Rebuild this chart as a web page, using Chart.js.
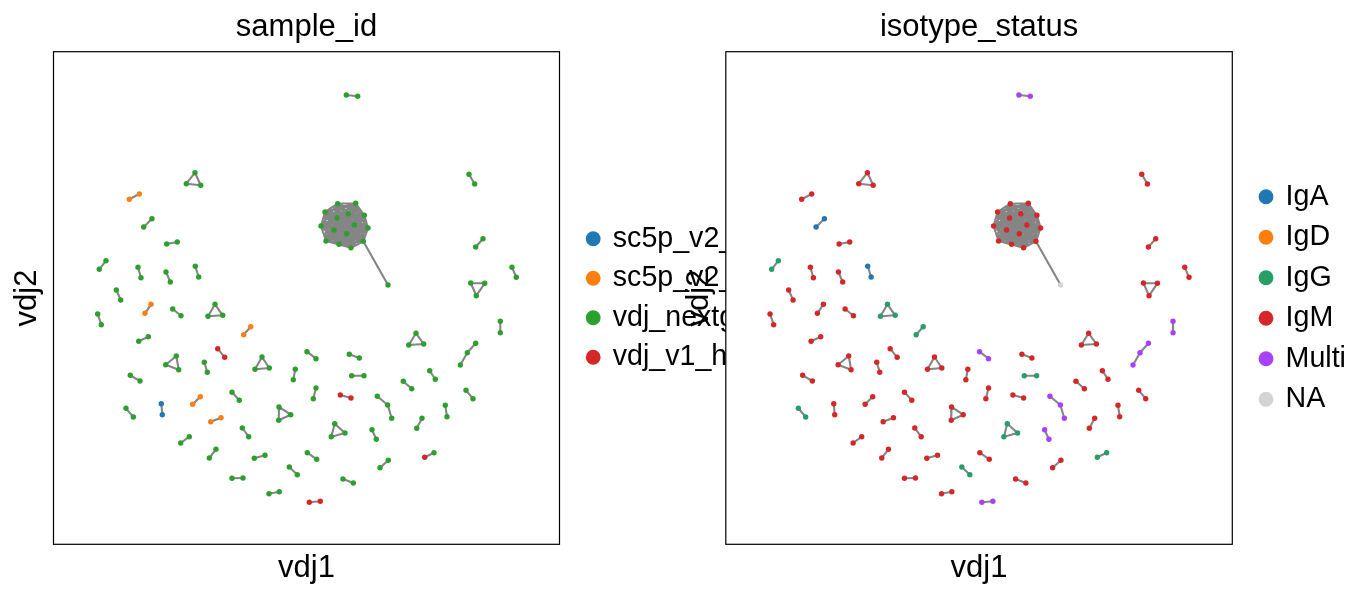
<!DOCTYPE html>
<html><head><meta charset="utf-8">
<script src="https://cdn.jsdelivr.net/npm/chart.js@4/dist/chart.umd.min.js"></script>
<style>
html,body{margin:0;padding:0;background:#fff;overflow:hidden}
#wrap{position:relative;width:1372px;height:599px}
canvas{position:absolute;left:0;top:0}
</style></head>
<body><div id="wrap"><canvas id="c1" width="1372" height="599"></canvas><canvas id="c2" width="1372" height="599"></canvas></div>
<script>
// ---------- categories ----------
const sampleCats = ['sc5p_v2_hs_PBMC_10k_b','sc5p_v2_hs_PBMC_1k_b','vdj_nextgem_hs_pbmc3_b','vdj_v1_hs_pbmc3_b'];
const sampleColors = ['#1f77b4','#ff7f0e','#2ca02c','#d62728'];
const isotypeCats = ['IgA','IgD','IgG','IgM','Multi','NA'];
const isotypeColors = ['#1f77b4','#ff7f0e','#279e68','#d62728','#aa40fc','#d3d3d3'];

// ---------- node embedding (vdj1, vdj2) ----------
const vdj1 = [
 141.5,132.8,147.2,75.8,85.8,90.2,98.5,113.2,123.8,45.8,
 52.5,84.5,87.5,112.5,116.8,141.8,145.2,62.8,67.2,91.5,
 97.5,119.2,127.5,161.5,154.5,169.2,44.2,47.8,292.8,304.2,
 415.5,421.2,284.2,302.2,271.5,310.8,283.5,294.8,267.5,314.5,
 300.8,280.5,293.2,272.5,285.5,297.5,309.8,334.5,429.5,422.2,
 458.5,462.8,417.2,431.2,422.8,446.8,446.8,197.2,190.2,85.2,
 94.8,164.2,171.2,122.8,112.2,125.2,150.8,153.8,208.5,201.5,
 215.8,253.5,262.5,241.8,239.8,76.8,86.5,178.5,185.8,107.8,
 108.8,146.8,139.2,72.5,79.8,262.5,259.8,225.5,237.2,225.2,
 167.5,157.2,188.8,195.2,135.8,127.2,162.5,155.8,211.5,200.8,
 253.8,263.2,235.8,243.8,178.5,189.5,215.5,225.8,255.8,266.8,
 362.5,355.2,370.2,422.2,413.8,406.8,295.8,305.8,298.2,310.5,
 376.2,381.8,349.8,358.2,286.8,297.5,323.8,334.2,338.2,412.5,
 419.5,391.8,393.5,368.5,363.2,281.2,277.8,291.5,318.5,322.8,
 371.2,380.5,334.8,326.5,289.5,299.8
];
const vdj2 = [
 371.6,360.6,359.0,345.0,350.3,317.3,325.6,300.3,302.3,275.0,
 283.6,277.0,266.6,272.3,262.3,278.0,267.3,254.3,244.3,231.0,
 240.0,235.3,228.6,240.0,228.0,229.0,230.3,219.6,449.3,448.0,
 370.0,360.3,340.6,341.0,332.3,329.0,326.3,330.6,318.3,316.3,
 319.3,314.3,310.6,303.3,300.0,296.6,303.0,259.3,305.6,297.3,
 277.0,267.0,261.3,261.0,248.6,223.0,211.6,217.6,209.6,203.0,
 207.6,195.6,187.0,188.3,179.6,174.6,182.0,172.0,187.3,175.0,
 176.3,192.6,185.6,175.0,164.6,169.0,163.3,152.0,144.0,140.6,
 129.6,147.6,140.0,136.0,127.3,156.3,145.6,137.3,129.6,124.0,
 126.6,122.6,116.3,107.6,107.6,101.3,95.0,86.3,89.0,86.0,
 91.6,85.0,77.3,69.6,66.0,66.3,50.6,52.6,42.0,43.0,
 211.0,199.3,200.3,201.0,191.6,179.3,190.0,186.3,168.6,168.6,
 173.6,165.0,163.0,155.6,149.3,146.3,148.0,139.3,126.0,154.0,
 145.6,139.0,127.6,126.0,116.0,120.6,107.6,111.3,114.6,105.0,
 87.0,91.6,84.0,76.6,65.3,61.3
];
// category index of each node
const sampleOf = [
 2,2,2,1,1,2,2,2,2,2, 2,2,2,2,2,2,2,2,2,1, 1,2,2,2,2,2,2,2,2,2,
 2,2,2,2,2,2,2,2,2,2, 2,2,2,2,2,2,2,2,2,2, 2,2,2,2,2,2,2,1,1,2,
 2,3,3,2,2,2,2,2,2,2, 2,2,2,2,2,2,2,2,2,0, 0,1,1,2,2,2,2,2,2,2,
 1,1,2,2,2,2,2,2,2,2, 2,2,2,2,2,2,2,2,3,3, 2,2,2,2,2,2,2,2,2,2,
 2,2,2,2,3,3,2,2,2,2, 2,2,2,2,2,2,2,2,2,2, 3,2,2,2,2,2
];
const isotypeOf = [
 3,3,3,3,3,0,0,3,3,2, 2,3,3,3,3,0,0,3,3,3, 3,3,3,2,2,2,3,3,4,4,
 3,3,3,3,3,3,3,3,3,3, 3,3,3,3,3,3,3,5,3,3, 3,3,3,3,3,4,4,2,2,3,
 3,3,3,3,3,3,3,3,3,3, 3,4,4,3,3,3,3,3,3,3, 3,3,3,2,2,3,3,3,3,3,
 3,3,3,3,3,3,3,3,3,3, 3,3,2,2,3,3,3,3,4,4, 3,3,3,4,4,4,3,3,2,2,
 3,3,3,3,3,3,4,4,4,3, 3,3,3,3,3,2,2,2,4,4, 2,2,3,3,3,3
];
// fully connected clonotype groups (node indices)
const cliques = [
 [0,1,2],[3,4],[5,6],[7,8],[9,10],[11,12],[13,14],[15,16],[17,18],[19,20],
 [21,22],[23,24,25],[26,27],[28,29],[30,31],
 [32,33,34,35,36,37,38,39,40,41,42,43,44,45,46],
 [48,49],[50,51],[52,53,54],[55,56],[57,58],[59,60],[61,62],[63,64,65],[66,67],
 [68,69,70],[71,72],[73,74],[75,76],[77,78],[79,80],[81,82],[83,84],[85,86],
 [87,88,89],[90,91],[92,93],[94,95],[96,97],[98,99],[100,101],[102,103],[104,105],
 [106,107],[108,109],[110,111,112],[116,117],[118,119],[120,121],[122,123],[124,125],
 [129,130],[131,132],[133,134],[135,136,137],[138,139],[140,141],[142,143],[144,145]
];
// other edges (chains / single links)
const extraEdges = [[46,47],[113,114],[114,115],[126,127],[127,128]];

// ---------- build ----------
const FONT = '"Liberation Sans", Arial, Helvetica, sans-serif';
const edgeData = [];
function addEdge(a,b){
  edgeData.push({x:vdj1[a],y:vdj2[a]},{x:vdj1[b],y:vdj2[b]},{x:null,y:null});
}
cliques.forEach(g=>{for(let i=0;i<g.length;i++)for(let j=i+1;j<g.length;j++)addEdge(g[i],g[j]);});
extraEdges.forEach(e=>addEdge(e[0],e[1]));

function pointSets(cats, colors, of){
  return cats.map((c,k)=>({
    label:c,
    data: vdj1.map((x,i)=>({x:x,y:vdj2[i],k:of[i]})).filter(p=>p.k===k).map(p=>({x:p.x,y:p.y})),
    backgroundColor:colors[k], borderWidth:0, pointRadius:2.7, pointHoverRadius:2.7,
    showLine:false, order:0
  }));
}
function edgeSet(){
  return {label:'edges', data:edgeData, showLine:true, spanGaps:false, pointRadius:0,
    borderColor:'#858585', borderWidth:2.1, borderCapStyle:'round', order:10};
}
const framePlugin = {id:'frame', afterDraw(chart){
  const a=chart.chartArea, ctx=chart.ctx; ctx.save();
  ctx.strokeStyle='#000'; ctx.lineWidth=1.2;
  ctx.strokeRect(a.left,a.top,a.right-a.left,a.bottom-a.top); ctx.restore();
}};
const bgPlugin = {id:'bgfill', beforeDraw(chart){
  const a=chart.chartArea, ctx=chart.ctx; ctx.save(); ctx.fillStyle='#fff';
  ctx.fillRect(a.left,a.top,a.right-a.left,a.bottom-a.top); ctx.restore();
}};
function legendPlugin(cats, colors, spacing){
  return {id:'catLegend', afterDraw(chart){
    const a=chart.chartArea, ctx=chart.ctx, n=cats.length, cy=(a.top+a.bottom)/2;
    ctx.save(); ctx.font='28.6px '+FONT; ctx.textBaseline='middle'; ctx.textAlign='left';
    cats.forEach((c,i)=>{
      const y=cy+(i-(n-1)/2)*spacing;
      ctx.beginPath(); ctx.arc(a.right+33.7,y,7.4,0,2*Math.PI); ctx.fillStyle=colors[i]; ctx.fill();
      ctx.fillStyle='#000'; ctx.fillText(c,a.right+53.3,y);
    });
    ctx.restore();
  }};
}
function makeChart(id, title, cats, colors, of, padding, spacing, extraPlugins){
  return new Chart(document.getElementById(id), {
    type:'scatter',
    data:{datasets:[...pointSets(cats,colors,of), edgeSet()]},
    options:{
      responsive:false, animation:false, devicePixelRatio:1, events:[],
      layout:{padding:padding},
      plugins:{
        legend:{display:false}, tooltip:{enabled:false},
        title:{display:true, text:title, fullSize:false, color:'#000',
          font:{family:FONT,size:31,weight:'normal',lineHeight:1}, padding:{top:12.1,bottom:8.6}}
      },
      scales:{
        x:{type:'linear', min:0, max:506, ticks:{display:false}, grid:{display:false,drawTicks:false}, border:{display:false},
           title:{display:true,text:'vdj1',color:'#000',font:{family:FONT,size:31,weight:'normal',lineHeight:1},padding:{top:0,bottom:15.2}},
           afterFit(s){s.height=54.7;}},
        y:{type:'linear', min:0, max:492.6, ticks:{display:false}, grid:{display:false,drawTicks:false}, border:{display:false},
           title:{display:true,text:'vdj2',color:'#000',font:{family:FONT,size:31,weight:'normal',lineHeight:1},padding:{top:12.1,bottom:0}},
           afterFit(s){s.width=53.5;}}
      }
    },
    plugins:[...extraPlugins, framePlugin, legendPlugin(cats,colors,spacing)]
  });
}
makeChart('c1','sample_id',sampleCats,sampleColors,sampleOf,{left:0,top:0,right:812.5,bottom:0},39.5,[]);
makeChart('c2','isotype_status',isotypeCats,isotypeColors,isotypeOf,{left:672.3,top:0,right:139.7,bottom:0},40.5,[bgPlugin]);
</script>
</body></html>
